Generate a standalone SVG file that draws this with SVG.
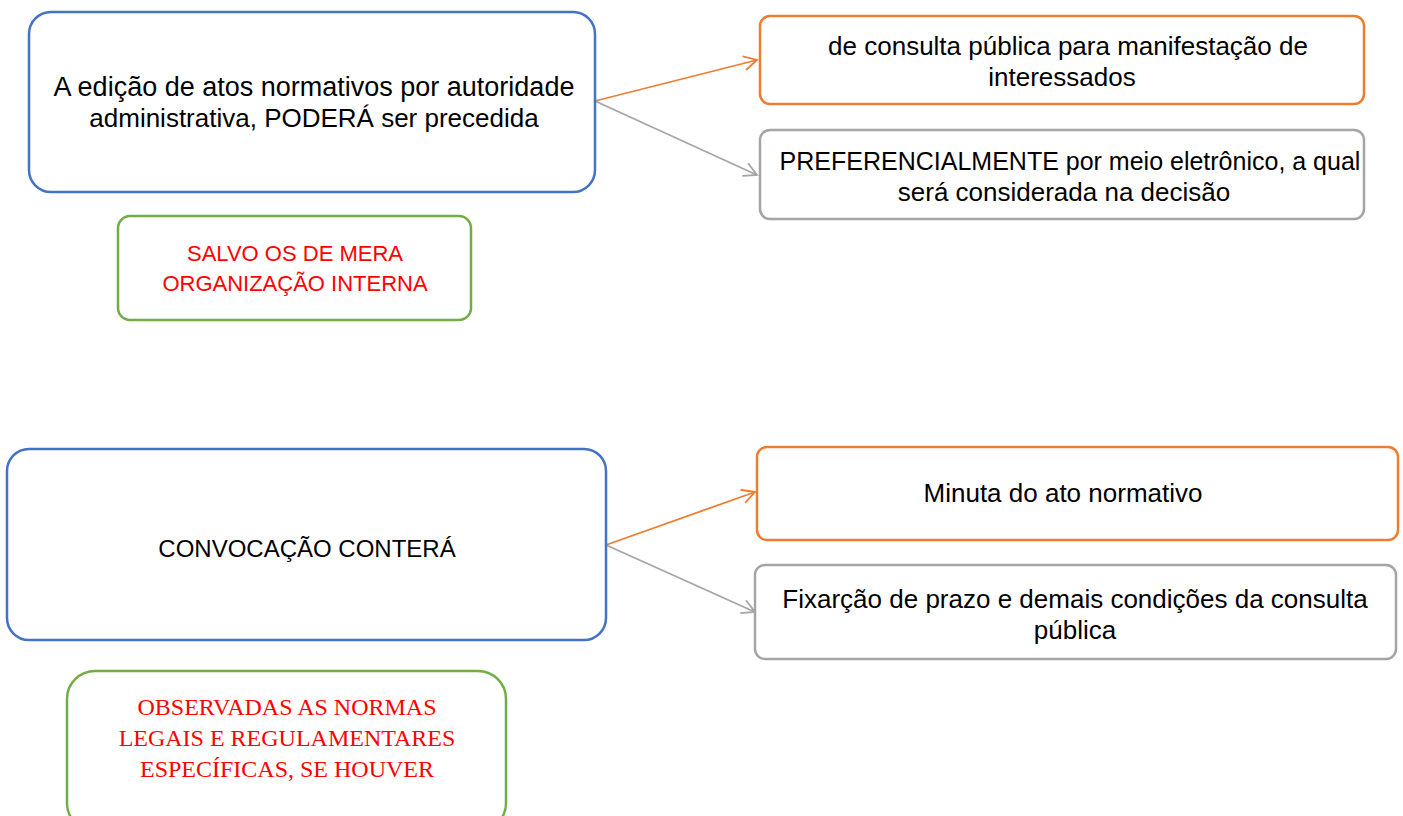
<svg xmlns="http://www.w3.org/2000/svg" width="1403" height="816" viewBox="0 0 1403 816">
<defs>
<style>
.box{fill:#fff;stroke-width:2.5}
.blue{stroke:#4472C4}
.green{stroke:#70AD47}
.orange{stroke:#ED7D31}
.gray{stroke:#A5A5A5}
.t{font-family:"Liberation Sans",Arial,sans-serif;font-size:26px;fill:#000;text-anchor:middle}
.r{font-family:"Liberation Sans",Arial,sans-serif;font-size:22px;fill:#FF0000;text-anchor:middle}
.rs{font-family:"Liberation Serif","Times New Roman",serif;font-size:24px;fill:#FF0000;text-anchor:middle}
.c{fill:none;stroke-width:1.8}
</style>
<marker id="ao" markerWidth="16" markerHeight="16" refX="14" refY="8" orient="auto" markerUnits="userSpaceOnUse"><path d="M1,1 L14,8 L1,15" fill="none" stroke="#ED7D31" stroke-width="1.8"/></marker>
<marker id="ag" markerWidth="16" markerHeight="16" refX="14" refY="8" orient="auto" markerUnits="userSpaceOnUse"><path d="M1,1 L14,8 L1,15" fill="none" stroke="#A5A5A5" stroke-width="1.8"/></marker>
</defs>
<rect width="1403" height="816" fill="#fff"/>
<g id="connectors">
<line class="c orange" x1="595" y1="101" x2="757" y2="60" marker-end="url(#ao)"/>
<line class="c gray" x1="595" y1="101" x2="757" y2="175" marker-end="url(#ag)"/>
<line class="c orange" x1="606" y1="545" x2="755" y2="492" marker-end="url(#ao)"/>
<line class="c gray" x1="606" y1="545" x2="755" y2="612" marker-end="url(#ag)"/>
</g>
<g id="n1">
<rect class="box blue" x="29" y="12" width="566" height="180" rx="22"/>
<text class="t" x="314" y="96" style="font-size:27px">A edição de atos normativos por autoridade</text>
<text class="t" x="314" y="127">administrativa, PODERÁ ser precedida</text>
</g>
<g id="n2">
<rect class="box green" x="118" y="216" width="353" height="104" rx="12"/>
<text class="r" x="295" y="261">SALVO OS DE MERA</text>
<text class="r" x="295" y="291">ORGANIZAÇÃO INTERNA</text>
</g>
<g id="n3">
<rect class="box orange" x="760" y="16" width="604" height="88" rx="10"/>
<text class="t" x="1068" y="55">de consulta pública para manifestação de</text>
<text class="t" x="1062" y="86">interessados</text>
</g>
<g id="n4">
<rect class="box gray" x="760" y="130" width="604" height="89" rx="10"/>
<text class="t" x="1070" y="170" style="font-size:25px">PREFERENCIALMENTE por meio eletrônico, a qual</text>
<text class="t" x="1064" y="201">será considerada na decisão</text>
</g>
<g id="n5">
<rect class="box blue" x="7" y="449" width="599" height="191" rx="22"/>
<text class="t" x="307" y="557" style="font-size:24px">CONVOCAÇÃO CONTERÁ</text>
</g>
<g id="n6">
<rect class="box green" x="67" y="671" width="439" height="160" rx="28"/>
<text class="rs" x="287" y="715">OBSERVADAS AS NORMAS</text>
<text class="rs" x="287" y="746">LEGAIS E REGULAMENTARES</text>
<text class="rs" x="287" y="777">ESPECÍFICAS, SE HOUVER</text>
</g>
<g id="n7">
<rect class="box orange" x="757" y="447" width="641" height="93" rx="10"/>
<text class="t" x="1063" y="502">Minuta do ato normativo</text>
</g>
<g id="n8">
<rect class="box gray" x="755" y="565" width="641" height="94" rx="10"/>
<text class="t" x="1075" y="608">Fixarção de prazo e demais condições da consulta</text>
<text class="t" x="1075" y="639">pública</text>
</g>
</svg>
